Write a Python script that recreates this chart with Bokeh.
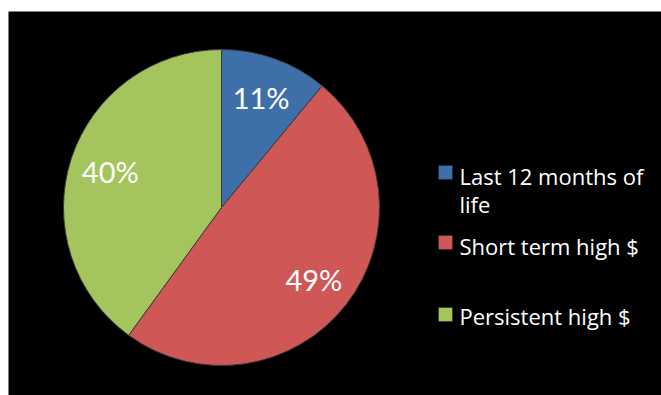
import numpy as np
from bokeh.plotting import figure
from bokeh.models import Range1d, ColumnDataSource
from bokeh.core.properties import value
from bokeh.embed import file_html
from bokeh.resources import INLINE

categories = ["Last 12 months of\nlife", "Short term high $", "Persistent high $"]
shares = [11, 49, 40]
labels = ["11%", "49%", "40%"]
colors = ["#3f6fa8", "#cf5755", "#a4c45d"]

W, H = 661, 395
p = figure(width=W, height=H, output_backend="svg", toolbar_location=None,
           x_range=Range1d(8, W), y_range=Range1d(0, H - 11),
           min_border_left=8, min_border_top=11, min_border_right=0, min_border_bottom=0,
           background_fill_color="black", border_fill_color="white")
p.axis.visible = False
p.grid.visible = False
p.outline_line_color = None

cx, cy, R = 221, 188, 158
vals = np.array(shares, dtype=float)
frac = vals / vals.sum()
cum = np.concatenate([[0], np.cumsum(frac)])
start = np.pi / 2 - cum[:-1] * 2 * np.pi
end = np.pi / 2 - cum[1:] * 2 * np.pi
mid = (start + end) / 2

src = ColumnDataSource(dict(start=start, end=end, color=colors,
                            lx=cx + 0.74 * R * np.cos(mid),
                            ly=cy + 0.74 * R * np.sin(mid),
                            label=labels))
p.wedge(x=cx, y=cy, radius=R, start_angle="start", end_angle="end",
        direction="clock", fill_color="color", line_color="#3a3a3a",
        line_width=1, source=src)
p.text(x="lx", y="ly", text="label", source=src, text_color="white",
       text_font=value("Lato"), text_font_size="29px",
       text_align="center", text_baseline="middle")

# legend
sq_x = 445
item_y = [H - 172, H - 242, H - 314]
p.scatter(x=[sq_x] * 3, y=item_y, marker="square", size=14,
          fill_color=colors, line_color="#222222", line_width=0.5)
txt_y = [H - 175, H - 245, H - 315]
first = [c.split("\n")[0] for c in categories]
p.text(x=[459] * 3, y=txt_y, text=first, text_color="white",
       text_font=value("Open Sans"), text_font_size="22px",
       text_align="left", text_baseline="middle")
extra = [c.split("\n")[1] for c in categories if "\n" in c]
p.text(x=[459], y=[H - 203], text=extra, text_color="white",
       text_font=value("Open Sans"), text_font_size="22px",
       text_align="left", text_baseline="middle")

open("out.html", "w").write(file_html(p, INLINE))
